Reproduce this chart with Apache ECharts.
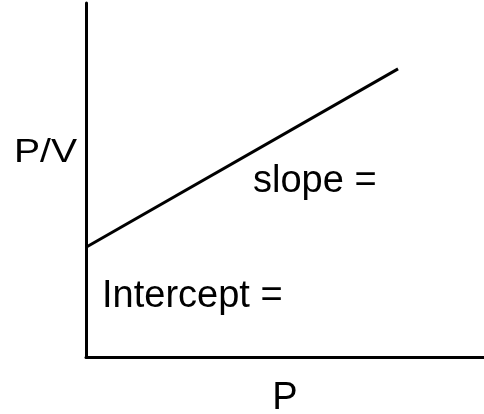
<!DOCTYPE html>
<html>
<head>
<meta charset="utf-8">
<script src="https://cdn.jsdelivr.net/npm/echarts@6/dist/echarts.min.js"></script>
<style>
  html, body {margin: 0; padding: 0; background: #fff;}
  #chart {width: 484px; height: 414px;}
</style>
</head>
<body>
<div id="chart"></div>
<script>
// schematic straight line, P vs P/V (arbitrary units)
const pValues = [0, 7.84]
const pvValues = [3.1, 8.14]
const xLabel = 'P'
const yLabel = 'P/V'
const slopeText = 'slope ='
const interceptText = 'Intercept ='

const font = '"Liberation Sans", Arial, sans-serif'
const ink = '#000'

const chart = echarts.init(document.getElementById('chart'))

const option = {
  animation: false,
  backgroundColor: '#fff',
  grid: {left: 86, right: 0, top: 3, bottom: 57, outerBoundsMode: 'none', containLabel: false},
  xAxis: {
    type: 'value',
    min: 0,
    max: 10,
    name: xLabel,
    nameLocation: 'middle',
    nameGap: 23,
    nameTextStyle: {color: ink, fontSize: 38, fontFamily: font},
    axisLine: {show: true, onZero: false, lineStyle: {color: ink, width: 3}},
    axisTick: {show: false},
    axisLabel: {show: false},
    splitLine: {show: false}
  },
  yAxis: {
    type: 'value',
    min: 0,
    max: 10,
    axisLine: {show: true, onZero: false, lineStyle: {color: ink, width: 3}},
    axisTick: {show: false},
    axisLabel: {show: false},
    splitLine: {show: false}
  },
  graphic: [
    {
      // the y label is drawn a little squashed in the original
      type: 'text', x: 14, y: 153, scaleX: 1.03, scaleY: 0.88,
      style: {text: yLabel, fill: ink, font: '38px ' + font, verticalAlign: 'middle'}
    },
    {
      type: 'text', x: 253, y: 181.5,
      style: {text: slopeText, fill: ink, font: '38px ' + font, verticalAlign: 'middle'}
    },
    {
      type: 'text', x: 102, y: 296.5,
      style: {text: interceptText, fill: ink, font: '38px ' + font, verticalAlign: 'middle'}
    }
  ],
  series: [{
    type: 'line',
    data: pValues.map((p, i) => [p, pvValues[i]]),
    symbol: 'none',
    lineStyle: {color: ink, width: 3}
  }]
}

chart.setOption(option)
</script>
</body>
</html>
